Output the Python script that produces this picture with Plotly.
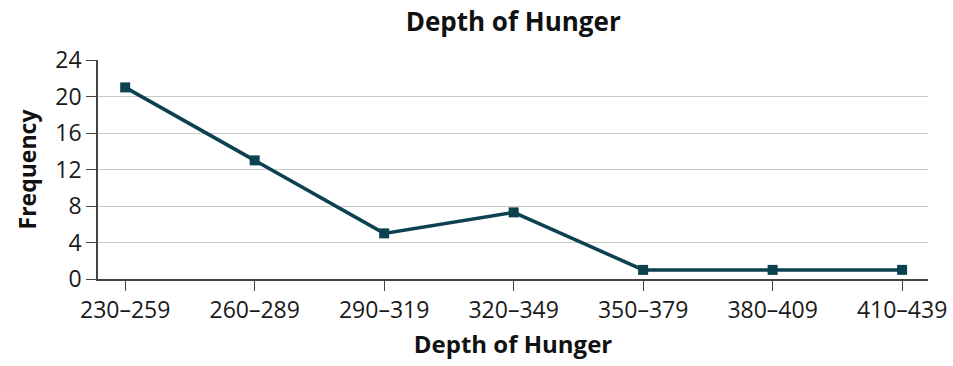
import plotly.graph_objects as go

# Frequency table for depth of hunger (kilocalories per person per day)
categories = ["230–259", "260–289", "290–319", "320–349", "350–379", "380–409", "410–439"]
frequency = [21, 13, 5, 7.3, 1, 1, 1]
y_ticks = [0, 4, 8, 12, 16, 20, 24]

line_color = "#0c4250"
font_family = "Open Sans, Noto Sans, sans-serif"

fig = go.Figure(
    go.Scatter(
        x=list(range(len(categories))),
        y=frequency,
        mode="lines+markers",
        line=dict(color=line_color, width=3.5),
        marker=dict(symbol="square", size=10, color=line_color),
        showlegend=False,
    )
)

fig.update_layout(
    width=953,
    height=366,
    margin=dict(l=98, r=25, t=60, b=87),
    plot_bgcolor="white",
    paper_bgcolor="white",
    font=dict(family=font_family, size=24, color="#1a1a1a"),
    title=dict(
        text="<b>Depth of Hunger</b>",
        x=0.5385,
        xanchor="center",
        y=0.94,
        yanchor="middle",
        font=dict(size=26, color="#111111"),
    ),
)

fig.update_xaxes(
    automargin=False,
    range=[-0.21, 6.2],
    tickmode="array",
    tickvals=list(range(len(categories))),
    ticktext=categories,
    ticks="outside",
    ticklen=10,
    tickcolor="#444444",
    tickfont=dict(size=23),
    showline=True,
    linecolor="#444444",
    linewidth=1.5,
    showgrid=False,
    zeroline=False,
    title=dict(text="<b>Depth of Hunger</b>", font=dict(size=24, color="#111111"), standoff=12),
)

fig.update_yaxes(
    automargin=False,
    range=[0, 24],
    tickmode="array",
    tickvals=y_ticks,
    ticks="outside",
    ticklen=10,
    tickcolor="#444444",
    tickfont=dict(size=23),
    showline=True,
    linecolor="#444444",
    linewidth=1.5,
    showgrid=True,
    gridcolor="#c8c8c8",
    gridwidth=1,
    zeroline=False,
    title=dict(text="<b>Frequency</b>", font=dict(size=23, color="#111111"), standoff=12),
)

fig.add_annotation(
    text="a.",
    xref="paper",
    yref="paper",
    x=-0.12,
    y=1.33,
    xanchor="left",
    yanchor="middle",
    showarrow=False,
    font=dict(size=23, color="#111111"),
)

fig.write_html("out.html")
